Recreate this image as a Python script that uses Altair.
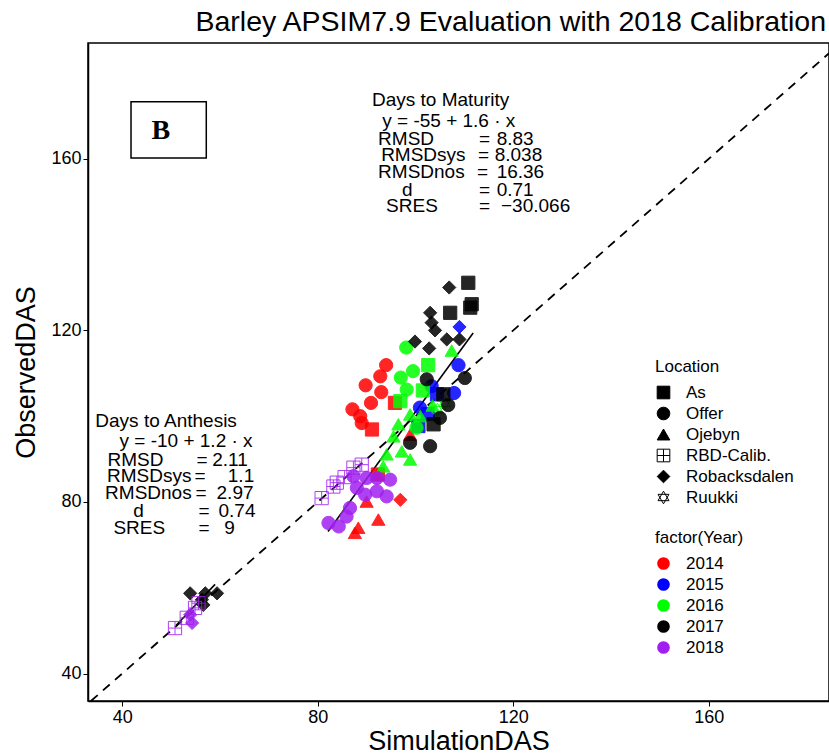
import altair as alt
import pandas as pd

# ---------------- data ----------------
locations = ["As", "Offer", "Ojebyn", "RBD-Calib.", "Robacksdalen", "Ruukki"]
years = ["2014", "2015", "2016", "2017", "2018"]
year_colors = ["#FF0000", "#0000FF", "#00FF00", "#000000", "#A020F0"]

# Days to anthesis cluster
rob17_a_sim = [53.9, 57.0, 59.4, 56.3, 56.6]
rob17_a_obs = [58.7, 58.7, 58.7, 57.2, 56.0]
rbd18_a_sim = [54.9, 53.2, 50.8, 55.6]
rbd18_a_obs = [55.3, 53.0, 50.6, 56.4]
rob18_a_sim = [53.9, 54.3]
rob18_a_obs = [53.7, 51.8]

# Days to maturity cluster
off14_sim = [94.0, 92.8, 89.8, 93.0, 90.9, 87.1, 88.7, 89.0]
off14_obs = [111.9, 109.3, 107.2, 105.6, 103.1, 101.6, 100.0, 98.4]
as14_sim = [91.1, 95.8, 92.3]
as14_obs = [96.9, 103.1, 86.4]
oje14_sim = [88.3, 87.6, 92.4, 90.0, 92.1, 98.9]
oje14_obs = [74.0, 72.8, 75.9, 80.1, 86.4, 95.7]
rob14_sim = [96.9]
rob14_obs = [80.5]
off15_sim = [108.8, 107.9, 103.3, 100.9]
off15_obs = [111.9, 105.4, 107.0, 102.0]
as15_sim = [100.6, 104.4, 102.5]
as15_obs = [97.7, 105.1, 100.5]
rob15_sim = [109.0]
rob15_obs = [120.8]
off16_sim = [98.1, 98.2, 100.2, 99.5, 97.0]
off16_obs = [116.0, 106.2, 97.3, 110.5, 109.0]
as16_sim = [102.6, 96.9, 101.5]
as16_obs = [111.9, 103.5, 106.0]
oje16_sim = [107.4, 98.9, 96.5, 95.5, 94.1, 97.2, 93.4, 98.9, 101.0, 103.5]
oje16_obs = [115.3, 100.4, 98.1, 95.3, 91.1, 91.8, 88.3, 89.9, 100.0, 102.5]
ruu16_sim = [104.5, 106.0]
ruu16_obs = [101.5, 103.0]
as17_sim = [110.8, 111.5, 111.2, 107.1, 105.7, 103.7]
as17_obs = [131.1, 126.1, 125.3, 124.1, 105.1, 98.1]
rob17_sim = [106.9, 103.0, 103.3, 104.0, 99.9, 102.8, 106.4, 109.0]
rob17_obs = [130.0, 124.1, 121.8, 120.0, 117.4, 115.8, 117.9, 117.9]
off17_sim = [110.1, 106.7, 103.0, 98.9, 102.3, 105.0]
off17_obs = [108.9, 102.6, 93.0, 93.8, 108.6, 99.6]
rbd18_sim = [80.8, 83.2, 83.9, 85.5, 87.3, 89.0]
rbd18_obs = [80.9, 83.6, 84.5, 85.8, 88.0, 88.7]
off18_sim = [82.2, 84.3, 86.6, 85.9, 88.0, 89.7, 92.1, 94.1, 94.8, 92.1, 90.0, 87.3]
off18_obs = [75.1, 74.3, 78.6, 76.6, 83.3, 81.7, 82.5, 81.3, 85.2, 85.6, 85.6, 86.0]

series = [
    ("Robacksdalen", "2017", rob17_a_sim, rob17_a_obs),
    ("RBD-Calib.", "2018", rbd18_a_sim, rbd18_a_obs),
    ("Robacksdalen", "2018", rob18_a_sim, rob18_a_obs),
    ("Offer", "2014", off14_sim, off14_obs),
    ("As", "2014", as14_sim, as14_obs),
    ("Ojebyn", "2014", oje14_sim, oje14_obs),
    ("Robacksdalen", "2014", rob14_sim, rob14_obs),
    ("Offer", "2015", off15_sim, off15_obs),
    ("As", "2015", as15_sim, as15_obs),
    ("Robacksdalen", "2015", rob15_sim, rob15_obs),
    ("Offer", "2016", off16_sim, off16_obs),
    ("As", "2016", as16_sim, as16_obs),
    ("Ojebyn", "2016", oje16_sim, oje16_obs),
    ("Ruukki", "2016", ruu16_sim, ruu16_obs),
    ("As", "2017", as17_sim, as17_obs),
    ("Robacksdalen", "2017", rob17_sim, rob17_obs),
    ("Offer", "2017", off17_sim, off17_obs),
    ("RBD-Calib.", "2018", rbd18_sim, rbd18_obs),
    ("Offer", "2018", off18_sim, off18_obs),
]

# fitted lines (start / end)
fit_x = [51.0, 82.1]
fit_y = [51.2, 73.1]
fit_x2 = [59.0, 111.8]
fit_y2 = [60.8, 119.4]

# 1:1 reference line
one_to_one = [33.6, 184.6]

# annotation text
mat_title = "Days to Maturity"
mat_eq = "y = -55 + 1.6 · x"
ant_title = "Days to Anthesis"
ant_eq = "y = -10 + 1.2 · x"
stat_names = ["RMSD", "RMSDsys", "RMSDnos", "d", "SRES"]
mat_values = ["8.83", "8.038", "16.36", "0.71", "\u221230.066"]
ant_values = ["2.11", "1.1", "2.97", "0.74", "9"]
x_ticks = [40, 80, 120, 160]
y_ticks = [40, 80, 120, 160]

# ---------------- build tables ----------------
rows = []
for loc, yr, xs_, ys_ in series:
    for a, b in zip(xs_, ys_):
        rows.append({"SimulationDAS": a, "ObservedDAS": b, "Location": loc, "Year": yr})
points = pd.DataFrame(rows)

fits = pd.DataFrame({"x": fit_x, "y": fit_y, "x2": fit_x2, "y2": fit_y2})
ref = pd.DataFrame({"x": one_to_one, "y": one_to_one})

# annotation layout (data coordinates)
mat_line_y = [173.6, 168.9, 164.6, 160.9, 157.0, 152.8, 148.9]
ant_line_y = [98.8, 94.1, 89.9, 86.0, 82.1, 77.8, 74.0]
mat_label_x = [92.35, 92.97, 92.35, 97.26, 93.99]
mat_eqsign_x = [113.0, 112.8, 112.6, 113.0, 113.0]
mat_value_x = [116.6, 116.2, 116.6, 116.6, 117.5]
ant_label_x = [37.0, 36.9, 36.5, 42.25, 38.2]
ant_eqsign_x = [55.2, 54.8, 55.0, 55.6, 55.6]
ant_value_x = [58.4, 61.6, 59.3, 59.7, 60.9]

ann = []
ann.append({"x": 91.1, "y": mat_line_y[0], "t": mat_title})
ann.append({"x": 93.2, "y": mat_line_y[1], "t": mat_eq})
ann.append({"x": 34.5, "y": ant_line_y[0], "t": ant_title})
ann.append({"x": 39.45, "y": ant_line_y[1], "t": ant_eq})
for i, nm in enumerate(stat_names):
    ann.append({"x": mat_label_x[i], "y": mat_line_y[i + 2], "t": nm})
    ann.append({"x": mat_eqsign_x[i], "y": mat_line_y[i + 2], "t": "="})
    ann.append({"x": mat_value_x[i], "y": mat_line_y[i + 2], "t": mat_values[i]})
    ann.append({"x": ant_label_x[i], "y": ant_line_y[i + 2], "t": nm})
    ann.append({"x": ant_eqsign_x[i], "y": ant_line_y[i + 2], "t": "="})
    ann.append({"x": ant_value_x[i], "y": ant_line_y[i + 2], "t": ant_values[i]})
ann = pd.DataFrame(ann)

box = pd.DataFrame({"x": [41.8], "x2": [57.2], "y": [173.3], "y2": [160.2]})
box_label = pd.DataFrame({"x": [47.9], "y": [166.6], "t": ["B"]})

# ---------------- chart ----------------
FONT = "Liberation Sans"
xs = alt.Scale(domain=[33.0, 184.6], nice=False, zero=False)
ys = alt.Scale(domain=[33.6, 187.0], nice=False, zero=False)

x_axis = alt.Axis(values=x_ticks, grid=False, title="SimulationDAS")
y_axis = alt.Axis(values=y_ticks, grid=False, title="ObservedDAS")

rbd_path = "M-1,-1L1,-1M1,-1L1,1M1,1L-1,1M-1,1L-1,-1M0,-1L0,1M-1,0L1,0"
star_path = ("M0,-1L0.866,0.5M0.866,0.5L-0.866,0.5M-0.866,0.5L0,-1"
             "M0,1L0.866,-0.5M0.866,-0.5L-0.866,-0.5M-0.866,-0.5L0,1")
shape_range = ["square", "circle", "triangle-up", rbd_path, "diamond", star_path]

color_scale = alt.Scale(domain=years, range=year_colors)

ref_line = alt.Chart(ref).mark_line(
    color="black", strokeDash=[9, 7], strokeWidth=1.8, clip=True
).encode(
    x=alt.X("x:Q", scale=xs, axis=x_axis),
    y=alt.Y("y:Q", scale=ys, axis=y_axis),
)

fit_lines = alt.Chart(fits).mark_rule(color="black", strokeWidth=1.6).encode(
    x=alt.X("x:Q", scale=xs), y=alt.Y("y:Q", scale=ys),
    x2="x2:Q", y2="y2:Q",
)

pts = alt.Chart(points).mark_point(
    filled=True, size=175, opacity=0.85, strokeWidth=1
).encode(
    x=alt.X("SimulationDAS:Q", scale=xs),
    y=alt.Y("ObservedDAS:Q", scale=ys),
    shape=alt.Shape(
        "Location:N",
        scale=alt.Scale(domain=locations, range=shape_range),
        legend=alt.Legend(
            title="Location", orient="none", legendX=567, legendY=316,
            symbolFillColor="black", symbolStrokeColor="black",
            symbolStrokeWidth=1, symbolSize=160, symbolOpacity=1,
        ),
    ),
    fill=alt.Fill(
        "Year:N", scale=color_scale,
        legend=alt.Legend(
            title="factor(Year)", orient="none", legendX=567, legendY=487,
            symbolType="circle", symbolSize=160, symbolStrokeWidth=0,
            symbolOpacity=1,
        ),
    ),
    stroke=alt.Stroke("Year:N", scale=color_scale, legend=None),
)

texts = alt.Chart(ann).mark_text(
    align="left", baseline="middle", fontSize=19, font=FONT, color="black"
).encode(
    x=alt.X("x:Q", scale=xs), y=alt.Y("y:Q", scale=ys), text="t:N"
)

box_rect = alt.Chart(box).mark_rect(
    fill="white", stroke="black", strokeWidth=1.5
).encode(
    x=alt.X("x:Q", scale=xs), x2="x2:Q", y=alt.Y("y:Q", scale=ys), y2="y2:Q"
)

box_text = alt.Chart(box_label).mark_text(
    fontSize=28, font="Liberation Serif", fontWeight="bold", color="black",
    align="center", baseline="middle",
).encode(x=alt.X("x:Q", scale=xs), y=alt.Y("y:Q", scale=ys), text="t:N")

chart = alt.layer(
    ref_line, fit_lines, pts, texts, box_rect, box_text
).properties(
    width=741,
    height=658,
    background="white",
    title=alt.TitleParams(
        "Barley APSIM7.9 Evaluation with 2018 Calibration",
        anchor="end", fontSize=28.5, fontWeight="normal", font=FONT,
        color="black", offset=7, dx=-3,
    ),
    autosize=alt.AutoSizeParams(type="none"),
    padding={"left": 88, "top": 43, "right": 0, "bottom": 54},
).configure_view(
    stroke="black", strokeWidth=1.5
).configure_axis(
    domainColor="black", domainWidth=1.5, tickColor="black", tickSize=5,
    labelFont=FONT, labelFontSize=18, labelColor="black", labelPadding=2,
    titleFont=FONT, titleFontSize=27, titleFontWeight="normal",
    titleColor="black",
).configure_axisX(titlePadding=2).configure_axisY(titlePadding=10).configure_legend(
    titleFont=FONT, titleFontSize=17, titleFontWeight="normal", titleColor="black",
    labelFont=FONT, labelFontSize=17, labelColor="black",
    rowPadding=3, titlePadding=8, labelOffset=14, padding=0,
)

chart.save("out.html", embed_options={"renderer": "svg", "actions": False})
